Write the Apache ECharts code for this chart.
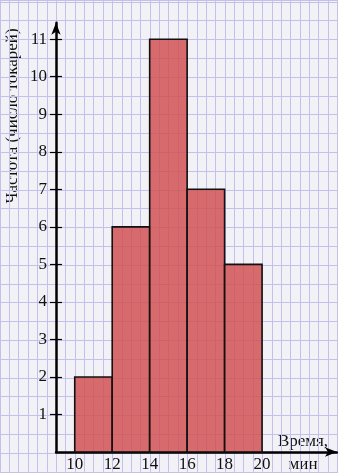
<!DOCTYPE html>
<html><head><meta charset="utf-8">
<script src="https://cdn.jsdelivr.net/npm/echarts@6/dist/echarts.min.js"></script>
<style>html,body{margin:0;padding:0;background:#f2f1f6}#c{width:338px;height:473px}</style>
</head><body><div id="c"></div>
<script>
const binStarts = [10, 12, 14, 16, 18];
const binEnds = [12, 14, 16, 18, 20];
const frequencies = [2, 6, 11, 7, 5];
const xTickLabels = [10, 12, 14, 16, 18, 20];
const yTickLabels = [1, 2, 3, 4, 5, 6, 7, 8, 9, 10, 11];
const yAxisTitle = 'Частота (число токарей)';
const xAxisTitle = 'Время,\nмин';

const FONT = "'Liberation Serif','Times New Roman',serif";
const data = binStarts.map((s, i) => [s, binEnds[i], frequencies[i]]);

const chart = echarts.init(document.getElementById('c'), null, {renderer: 'canvas'});
chart.setOption({
  backgroundColor: '#f2f1f6',
  animation: false,
  grid: [
    {left: 56, right: 1, top: 22.7, bottom: 20},
    {left: 0, right: 0, top: 0, bottom: 1.2}
  ],
  xAxis: [
    {gridIndex: 0, type: 'value', min: 9, max: 24, interval: 1,
     axisLine: {lineStyle: {color: '#000', width: 2.5}, symbol: ['none', 'arrow'], symbolSize: [7, 12]},
     axisTick: {show: false},
     splitLine: {show: false},
     axisLabel: {customValues: xTickLabels, color: '#111', fontFamily: FONT, fontSize: 17, margin: 4}
    },
    {gridIndex: 1, type: 'value', min: 6, max: 24.03, interval: 0.5,
     axisLine: {show: false}, axisTick: {show: false}, axisLabel: {show: false},
     splitLine: {show: true, lineStyle: {color: '#c3c1ec', width: 1}}
    }
  ],
  yAxis: [
    {gridIndex: 0, type: 'value', min: 0, max: 11.44, interval: 1, z: 5,
     axisLine: {lineStyle: {color: '#000', width: 2.5}, symbol: ['none', 'arrow'], symbolSize: [7, 12]},
     axisTick: {inside: true, length: 6, customValues: yTickLabels, lineStyle: {color: '#000', width: 1.2}},
     splitLine: {show: false},
     axisLabel: {show: false}
    },
    {gridIndex: 0, type: 'value', min: 0, max: 11.44, interval: 1, position: 'left', offset: 0, z: 5,
     axisLine: {show: false},
     axisTick: {show: true, length: 6, customValues: yTickLabels, lineStyle: {color: '#000', width: 1.2}},
     splitLine: {show: false},
     axisLabel: {customValues: yTickLabels, color: '#111', fontFamily: FONT, fontSize: 17, margin: 9}
    },
    {gridIndex: 1, type: 'value', min: -0.5, max: 12.05, interval: 0.5,
     axisLine: {show: false}, axisTick: {show: false}, axisLabel: {show: false},
     splitLine: {show: true, lineStyle: {color: '#c3c1ec', width: 1}}
    }
  ],
  series: [{
    type: 'custom',
    xAxisIndex: 0, yAxisIndex: 0,
    z: 3,
    data: data,
    encode: {x: [0, 1], y: 2},
    renderItem: function (params, api) {
      const x0 = api.value(0), x1 = api.value(1), y = api.value(2);
      const pTop = api.coord([x0, y]);
      const pBot = api.coord([x1, 0]);
      return {
        type: 'rect',
        shape: {x: pTop[0], y: pTop[1], width: pBot[0] - pTop[0], height: pBot[1] - pTop[1]},
        style: {fill: 'rgba(208,80,82,0.84)', stroke: '#111', lineWidth: 1.6}
      };
    }
  }],
  graphic: [
    {type: 'text', x: 13, y: 116, rotation: Math.PI / 2,
     style: {text: yAxisTitle, fill: '#111', font: '17px ' + FONT, textAlign: 'center', textVerticalAlign: 'middle'}},
    {type: 'text', x: 303, y: 430,
     style: {text: xAxisTitle, fill: '#111', font: '17px ' + FONT, textAlign: 'center', textVerticalAlign: 'top', lineHeight: 23}}
  ]
});
</script></body></html>
